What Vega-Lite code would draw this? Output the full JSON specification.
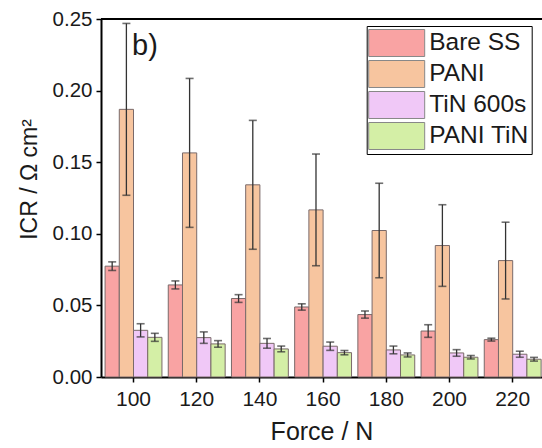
{
  "$schema": "https://vega.github.io/schema/vega-lite/v6.json",
  "autosize": {"type": "none"},
  "padding": {"left": 101, "top": 19, "right": 0, "bottom": 71},
  "width": 441,
  "height": 358,
  "data": {"values": [
    {"force": 100, "sample": "Bare SS", "icr": 0.0774, "err": 0.0030},
    {"force": 100, "sample": "PANI", "icr": 0.1869, "err": 0.0600},
    {"force": 100, "sample": "TiN 600s", "icr": 0.0326, "err": 0.0046},
    {"force": 100, "sample": "PANI TiN", "icr": 0.0277, "err": 0.0028},
    {"force": 120, "sample": "Bare SS", "icr": 0.0643, "err": 0.0028},
    {"force": 120, "sample": "PANI", "icr": 0.1565, "err": 0.0520},
    {"force": 120, "sample": "TiN 600s", "icr": 0.0275, "err": 0.0040},
    {"force": 120, "sample": "PANI TiN", "icr": 0.0231, "err": 0.0023},
    {"force": 140, "sample": "Bare SS", "icr": 0.0548, "err": 0.0027},
    {"force": 140, "sample": "PANI", "icr": 0.1342, "err": 0.0450},
    {"force": 140, "sample": "TiN 600s", "icr": 0.0235, "err": 0.0034},
    {"force": 140, "sample": "PANI TiN", "icr": 0.0196, "err": 0.0020},
    {"force": 160, "sample": "Bare SS", "icr": 0.0489, "err": 0.0022},
    {"force": 160, "sample": "PANI", "icr": 0.1167, "err": 0.0390},
    {"force": 160, "sample": "TiN 600s", "icr": 0.0215, "err": 0.0029},
    {"force": 160, "sample": "PANI TiN", "icr": 0.0170, "err": 0.0015},
    {"force": 180, "sample": "Bare SS", "icr": 0.0436, "err": 0.0025},
    {"force": 180, "sample": "PANI", "icr": 0.1023, "err": 0.0330},
    {"force": 180, "sample": "TiN 600s", "icr": 0.0189, "err": 0.0027},
    {"force": 180, "sample": "PANI TiN", "icr": 0.0154, "err": 0.0014},
    {"force": 200, "sample": "Bare SS", "icr": 0.0321, "err": 0.0044},
    {"force": 200, "sample": "PANI", "icr": 0.0918, "err": 0.0285},
    {"force": 200, "sample": "TiN 600s", "icr": 0.0168, "err": 0.0023},
    {"force": 200, "sample": "PANI TiN", "icr": 0.0138, "err": 0.0012},
    {"force": 220, "sample": "Bare SS", "icr": 0.0261, "err": 0.0010},
    {"force": 220, "sample": "PANI", "icr": 0.0813, "err": 0.0268},
    {"force": 220, "sample": "TiN 600s", "icr": 0.0159, "err": 0.0021},
    {"force": 220, "sample": "PANI TiN", "icr": 0.0124, "err": 0.0013}
  ]},
  "transform": [
    {"calculate": "datum.icr - datum.err", "as": "lo"},
    {"calculate": "datum.icr + datum.err", "as": "hi"}
  ],
  "encoding": {
    "x": {
      "field": "force", "type": "ordinal",
      "scale": {"paddingInner": 0.1, "paddingOuter": 0.039, "align": 0.825},
      "axis": {"title": "Force / N", "labelAngle": 0, "labelFontSize": 21, "titleFontSize": 25, "labelPadding": 6, "titlePadding": 10}
    },
    "xOffset": {
      "field": "sample", "type": "nominal",
      "scale": {"domain": ["Bare SS", "PANI", "TiN 600s", "PANI TiN"], "paddingInner": 0, "paddingOuter": 0}
    }
  },
  "layer": [
    {
      "mark": {"type": "bar", "stroke": "#7a6a6a", "strokeWidth": 1},
      "encoding": {
        "y": {
          "field": "icr", "type": "quantitative",
          "scale": {"domain": [0, 0.25], "nice": false, "zero": true},
          "axis": {"title": "ICR / Ω cm²", "values": [0, 0.05, 0.1, 0.15, 0.2, 0.25], "format": ".2f", "labelFontSize": 20.5, "titleFontSize": 23, "labelPadding": 4, "titlePadding": 11, "titleY": 160}
        },
        "color": {
          "field": "sample", "type": "nominal",
          "scale": {"domain": ["Bare SS", "PANI", "TiN 600s", "PANI TiN"], "range": ["#f9a3a3", "#f7c59f", "#f0c8f7", "#d4efa6"]},
          "legend": {
            "title": null, "orient": "none", "legendX": 265.7, "legendY": 7,
            "strokeColor": "black", "fillColor": "white", "padding": 2.5,
            "labelFontSize": 24.5, "labelColor": "#1a1a1a", "labelLimit": 300,
            "symbolType": "M-2,-0.964H2V0.964H-2Z", "symbolSize": 784,
            "symbolStrokeColor": "#888", "symbolStrokeWidth": 1, "symbolOpacity": 1,
            "symbolOffset": 13, "labelOffset": 18, "rowPadding": 0
          }
        }
      }
    },
    {
      "mark": {"type": "rule", "color": "#333", "strokeWidth": 1.3},
      "encoding": {
        "y": {"field": "lo", "type": "quantitative"},
        "y2": {"field": "hi"}
      }
    },
    {
      "mark": {"type": "tick", "color": "#333", "size": 8, "thickness": 1.6},
      "encoding": {"y": {"field": "lo", "type": "quantitative"}}
    },
    {
      "mark": {"type": "tick", "color": "#333", "size": 8, "thickness": 1.6},
      "encoding": {"y": {"field": "hi", "type": "quantitative"}}
    },
    {
      "data": {"values": [{"label": "b)", "force": 100, "yv": 0.2248}]},
      "transform": [],
      "mark": {"type": "text", "align": "left", "baseline": "alphabetic", "fontSize": 29, "dx": -1.5, "color": "#1a1a1a"},
      "encoding": {
        "x": {"field": "force", "type": "ordinal"},
        "xOffset": null,
        "y": {"field": "yv", "type": "quantitative"},
        "text": {"field": "label"}
      }
    },
    {
      "data": {"values": [{"top": 0.25}]},
      "transform": [],
      "mark": {"type": "rule", "color": "black", "strokeWidth": 2},
      "encoding": {"x": null, "xOffset": null, "y": {"field": "top", "type": "quantitative"}}
    }
  ],
  "config": {
    "font": "Liberation Sans",
    "view": {"stroke": null},
    "axis": {
      "domainColor": "black", "domainWidth": 2, "tickColor": "black", "tickWidth": 1.5, "tickSize": 5,
      "labelColor": "#1a1a1a", "titleColor": "#1a1a1a", "titleFontWeight": "normal", "grid": false
    }
  }
}
